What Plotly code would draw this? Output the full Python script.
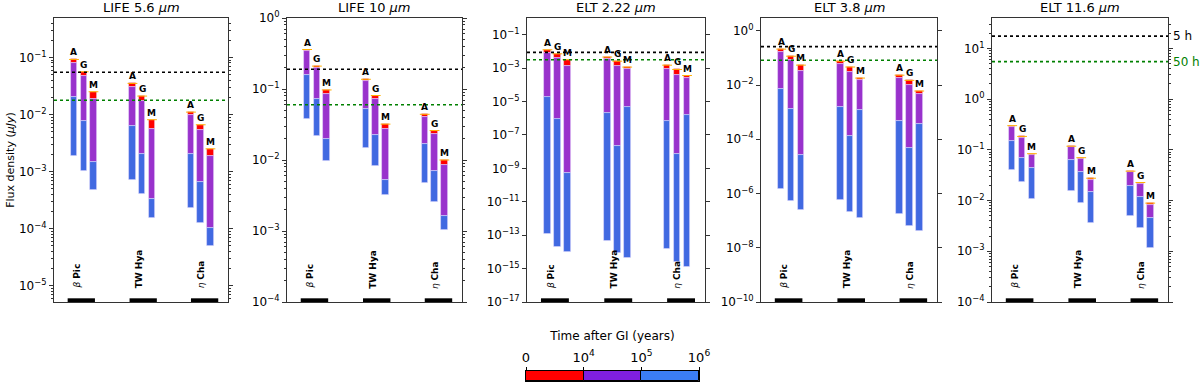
import numpy as np
import plotly.graph_objects as go

# bar order: beta Pic A,G,M | TW Hya A,G,M | eta Cha A,G,M
bar_x = [0, 1, 2, 6, 7, 8, 12, 13, 14]
bar_letters = ["A", "G", "M"] * 3
group_x = [0.75, 7.1, 13.4]
group_names = ["<i>β</i> <b>Pic</b>", "<b>TW Hya</b>", "<i>η</i> <b>Cha</b>"]

titles = ["LIFE 5.6 <i>μm</i>", "LIFE 10 <i>μm</i>", "ELT 2.22 <i>μm</i>",
          "ELT 3.8 <i>μm</i>", "ELT 11.6 <i>μm</i>"]

# flux (uJy) at t=0 (top), 1e4 yr, 1e5 yr, 1e6 yr (bottom)
life56_top = [0.092, 0.056, 0.025, 0.035, 0.021, 0.0081, 0.011, 0.0066, 0.0025]
life56_e4 = [0.081, 0.047, 0.0187, 0.030, 0.017, 0.0056, 0.0096, 0.0053, 0.00185]
life56_e5 = [0.020, 0.0078, 0.00145, 0.0062, 0.0020, 0.00033, 0.0020, 0.00066, 0.000104]
life56_e6 = [0.0019, 0.00102, 0.00047, 0.00072, 0.00040, 0.000155, 0.00023, 0.000127, 0.00005]

life10_top = [0.36, 0.21, 0.097, 0.137, 0.081, 0.032, 0.044, 0.026, 0.0100]
life10_e4 = [0.34, 0.195, 0.084, 0.129, 0.073, 0.027, 0.0405, 0.0233, 0.0084]
life10_e5 = [0.158, 0.072, 0.020, 0.053, 0.0223, 0.0052, 0.0167, 0.0071, 0.00165]
life10_e6 = [0.038, 0.0216, 0.0097, 0.0148, 0.0082, 0.0032, 0.0047, 0.0026, 0.00103]

elt222_top = [0.0125, 0.0072, 0.0032, 0.0046, 0.0026, 0.00115, 0.0015, 0.00083, 0.00036]
elt222_e4 = [0.0079, 0.0042, 0.00126, 0.0035, 0.00126, 0.00087, 0.00091, 0.0004, 0.00027]
elt222_e5 = [1.8e-5, 8.5e-7, 5.2e-10, 2.0e-6, 2.3e-8, 4.5e-6, 6.5e-7, 7.4e-9, 1.5e-6]
elt222_e6 = [1.2e-13, 2.0e-14, 9.3e-15, 4.8e-14, 8.1e-15, 4.1e-15, 1.5e-14, 2.6e-15, 1.3e-15]

elt38_top = [0.21, 0.115, 0.054, 0.075, 0.046, 0.018, 0.023, 0.0148, 0.006]
elt38_e4 = [0.167, 0.087, 0.033, 0.062, 0.030, 0.0148, 0.018, 0.0097, 0.0048]
elt38_e5 = [0.0073, 0.00126, 2.7e-5, 0.00154, 1.37e-4, 0.00115, 4.9e-4, 4.6e-5, 3.5e-4]
elt38_e6 = [1.45e-6, 5.4e-7, 2.4e-7, 5.6e-7, 2.0e-7, 1.3e-7, 1.8e-7, 6.3e-8, 4.2e-8]

elt116_top = [0.30, 0.184, 0.084, 0.118, 0.070, 0.0276, 0.038, 0.0227, 0.0089]
elt116_e4 = [0.277, 0.17, 0.079, 0.112, 0.066, 0.026, 0.036, 0.0214, 0.0083]
elt116_e5 = [0.147, 0.070, 0.044, 0.062, 0.036, 0.0146, 0.019, 0.0116, 0.0046]
elt116_e6 = [0.040, 0.023, 0.0108, 0.0152, 0.0091, 0.0036, 0.0049, 0.0029, 0.00114]

# detection limits: 5 h (black) and 50 h (green)
limit_5h = [0.055, 0.19, 0.0087, 0.26, 17.5]
limit_50h = [0.0178, 0.060, 0.0032, 0.082, 5.5]

panels = [
    (life56_top, life56_e4, life56_e5, life56_e6),
    (life10_top, life10_e4, life10_e5, life10_e6),
    (elt222_top, elt222_e4, elt222_e5, elt222_e6),
    (elt38_top, elt38_e4, elt38_e5, elt38_e6),
    (elt116_top, elt116_e4, elt116_e5, elt116_e6),
]

y_ranges = [[-5.285, -0.31], [-4, 0], [-17, 0], [-10, 0.47], [-4, 1.6]]
y_exps = [[-5, -4, -3, -2, -1], [-4, -3, -2, -1, 0],
          list(range(-17, 0, 2)), list(range(-10, 1, 2)), [-4, -3, -2, -1, 0, 1]]
minor_on = [True, True, False, False, True]

x_domains = [(54, 228), (287, 462), (527, 705), (761, 937), (992, 1168)]
x_range = [-2.05, 15.8]

# time after GI colour scale
time_labels = ["0", "10<sup>4</sup>", "10<sup>5</sup>", "10<sup>6</sup>"]
seg_colors = ["#ff0000", "#9932cc", "#4169e1"]
cbar_colors = ["#ff0000", "#7f1fe0", "#3b7df5"]

W, H = 1200, 383
FONT = "DejaVu Sans"
fig = go.Figure()

def sup(k):
    return "10<sup>" + str(k).replace("-", "−") + "</sup>"

for i, (top, e4, e5, e6) in enumerate(panels):
    n = i + 1
    sfx = "" if n == 1 else str(n)
    xa, ya = "x" + sfx, "y" + sfx
    bounds = [top, e4, e5, e6]
    for s in range(3):
        hi = np.array(bounds[s])
        lo = np.array(bounds[s + 1])
        fig.add_trace(go.Bar(
            x=bar_x, y=hi - lo, base=lo, width=0.66,
            marker=dict(color=seg_colors[s], line=dict(color="rgba(235,225,255,0.6)", width=0.8)),
            xaxis=xa, yaxis=ya, showlegend=False, hoverinfo="skip"))
    # thin orange cap on top
    fig.add_trace(go.Scatter(
        x=bar_x, y=top, mode="markers", xaxis=xa, yaxis=ya, showlegend=False,
        marker=dict(symbol="line-ew-open", size=7, color="#ffb000",
                    line=dict(color="#ffb000", width=1))))
    # detection limits
    for val, col in [(limit_5h[i], "black"), (limit_50h[i], "green")]:
        fig.add_trace(go.Scatter(
            x=x_range, y=[val, val], mode="lines", xaxis=xa, yaxis=ya, showlegend=False,
            line=dict(color=col, width=1.6, dash="dot")))
    # letters on bars
    for bx, t, lab in zip(bar_x, top, bar_letters):
        fig.add_annotation(x=bx, y=np.log10(t), xref=xa, yref=ya, text="<b>%s</b>" % lab,
                           showarrow=False, yanchor="bottom", yshift=0,
                           font=dict(family=FONT, size=9, color="black"))
    # group markers and names
    for gx, gname in zip(group_x, group_names):
        fig.add_shape(type="rect", xref=xa, yref=ya + " domain", x0=gx - 1.4, x1=gx + 1.4,
                      y0=0, y1=0.013, fillcolor="black", line=dict(width=0))
        fig.add_annotation(x=gx, y=0.04, xref=xa, yref=ya + " domain", text=gname,
                           textangle=-90, showarrow=False, yanchor="bottom", xshift=-4,
                           font=dict(family=FONT, size=9, color="black"))
    fig.add_annotation(x=0.5, y=1, xref=xa + " domain", yref=ya + " domain", text=titles[i],
                       showarrow=False, yanchor="middle", yshift=11,
                       font=dict(family=FONT, size=13, color="black"))

    d0, d1 = x_domains[i]
    fig.layout["xaxis" + sfx] = dict(
        domain=[d0 / W, d1 / W], range=x_range, anchor=ya, showticklabels=False,
        ticks="", showgrid=False, zeroline=False, showline=True, mirror=True,
        linecolor="#333", linewidth=1, automargin=False)
    minor = dict(ticks="")
    if minor_on[i]:
        mv = [m * 10.0 ** k for k in range(int(np.floor(y_ranges[i][0])), int(np.ceil(y_ranges[i][1])))
              for m in range(2, 10)]
        minor = dict(ticks="outside", ticklen=2, tickcolor="#333", tickmode="array", tickvals=mv,
                     showgrid=False)
    fig.layout["yaxis" + sfx] = dict(
        domain=[1 - 302 / H, 1 - 18 / H], type="log", range=y_ranges[i], anchor=xa,
        tickmode="array", tickvals=[10.0 ** k for k in y_exps[i]],
        ticktext=[sup(k) for k in y_exps[i]], ticks="outside", ticklen=4, tickcolor="#333",
        showgrid=False, zeroline=False, showline=True, mirror="ticks",
        linecolor="#333", linewidth=1, minor=minor, automargin=False,
        tickfont=dict(family=FONT, size=12, color="black"))

fig.layout.yaxis.title = dict(text="Flux density (<i>μJy</i>)",
                              font=dict(family=FONT, size=11, color="black"), standoff=2)

fig.add_annotation(x=1, y=np.log10(limit_5h[4]), xref="x5 domain", yref="y5", text="5 h",
                   showarrow=False, xanchor="left", xshift=3,
                   font=dict(family=FONT, size=12, color="black"))
fig.add_annotation(x=1, y=np.log10(limit_50h[4]), xref="x5 domain", yref="y5", text="50 h",
                   showarrow=False, xanchor="left", xshift=3,
                   font=dict(family=FONT, size=12, color="green"))

# colour bar for time after GI
fig.add_trace(go.Bar(x=[1, 1, 1], base=[0, 1, 2], y=[0, 0, 0], orientation="h", width=1,
                     marker=dict(color=cbar_colors, line=dict(color="black", width=1)),
                     xaxis="x6", yaxis="y6", showlegend=False, hoverinfo="skip"))
fig.layout.xaxis6 = dict(domain=[526 / W, 699 / W], range=[0, 3], anchor="y6", side="top",
                         tickmode="array", tickvals=[0, 1, 2, 3], ticktext=time_labels,
                         ticks="outside", ticklen=3, tickcolor="black", showgrid=False,
                         zeroline=False, showline=True, mirror=True, linecolor="black",
                         automargin=False,
                         tickfont=dict(family=FONT, size=13, color="black"),
                         title=dict(text="Time after GI (years)", standoff=5,
                                    font=dict(family=FONT, size=12, color="black")))
fig.layout.yaxis6 = dict(domain=[2 / H, 12 / H], range=[-0.5, 0.5], anchor="x6",
                         showticklabels=False, ticks="", showgrid=False, zeroline=False,
                         showline=True, mirror=True, linecolor="black", automargin=False)

fig.update_layout(width=W, height=H, margin=dict(l=0, r=0, t=0, b=0), barmode="overlay",
                  paper_bgcolor="white", plot_bgcolor="white", bargap=0)
fig.write_html("out.html", config={"displayModeBar": False},
               post_script="document.body.style.margin='0px';")
